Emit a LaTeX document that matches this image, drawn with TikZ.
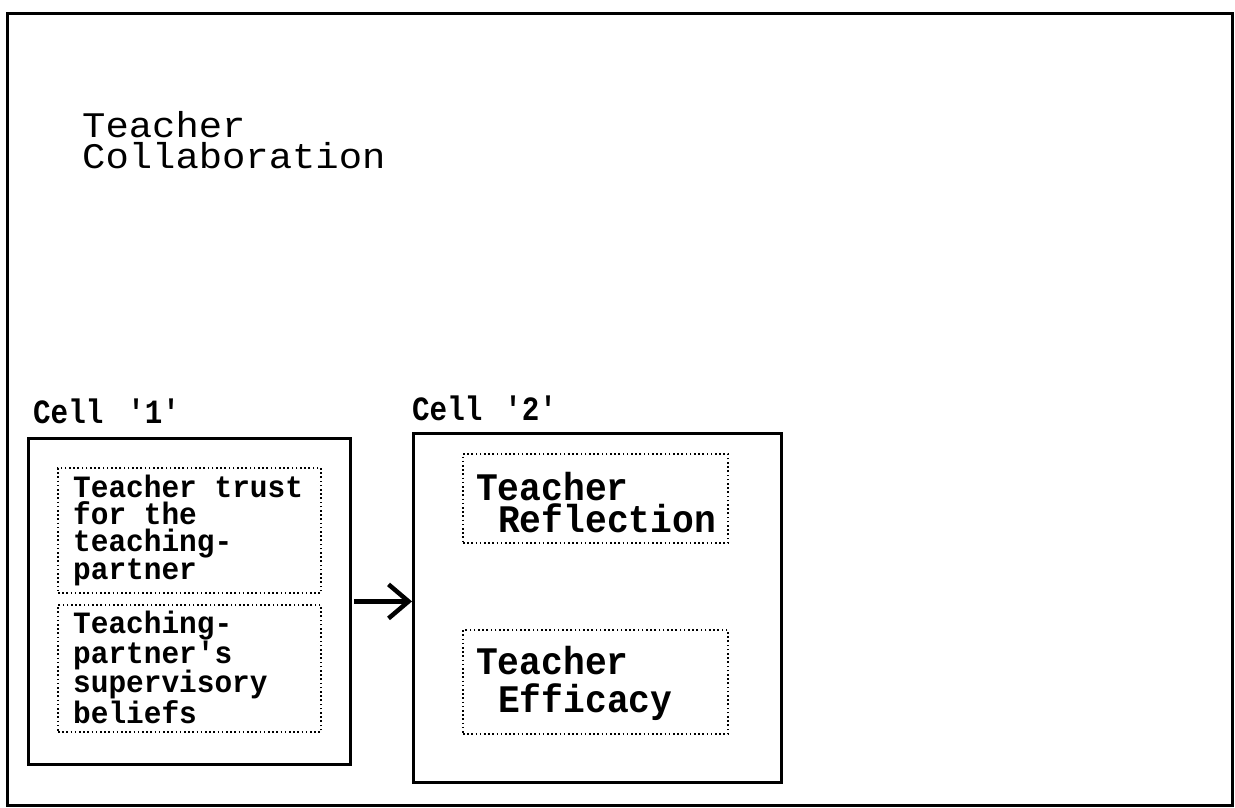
\documentclass[tikz,border=0pt]{standalone}
\usepackage{fontspec}
\setmonofont{Liberation Mono}
\newfontfamily\titlefont[FakeStretch=1.08]{Liberation Mono}
\newfontfamily\boxfont[FakeStretch=0.95]{Liberation Mono Bold}
\newfontfamily\cellfont[FakeStretch=0.93]{Liberation Mono Bold}
\newfontfamily\labfont[FakeStretch=0.86]{Liberation Mono Bold}
\newcommand\fixsp{\hspace*{17.7pt}}
\usetikzlibrary{arrows.meta}
\begin{document}
\begin{tikzpicture}[x=1pt,y=-1pt,
  frame/.style={draw, line width=3pt, anchor=north west, inner sep=0pt},
  cellbox/.style={draw, line width=2.8pt, anchor=north west, inner sep=0pt},
  dotbox/.style={draw, line width=2pt, dash pattern=on 1.6pt off 2.6pt, anchor=north west, inner sep=0pt},
  txtblock/.style={anchor=base west, inner sep=0pt, align=left, text width=#1},
  ttl/.style={txtblock=340pt, font=\titlefont\fontsize{36}{31}\selectfont},
  lab/.style={anchor=base west, inner sep=0pt, font=\labfont\fontsize{34}{34}\selectfont},
  btxt/.style={txtblock=245pt, font=\boxfont\fontsize{31}{#1}\selectfont},
  ctxt/.style={txtblock=250pt, font=\cellfont\fontsize{39}{#1}\selectfont},
  arr/.style={line width=4.5pt, -{Straight Barb[length=20pt,width=34pt]}, shorten <=2pt}
]
\useasboundingbox (0,0) rectangle (1235,807);
% outer frame
\node[frame, minimum width=1225pt, minimum height=792pt] (frame) at (6,12) {};
% title
\node[ttl] (title) at (82,137) {Teacher\\Collaboration};
% cell labels
\node[lab] (lab1) at (33,423) {Cell\hspace{24pt}'1'};
\node[lab] (lab2) at (412,420) {Cell\hspace{22pt}'2'};
% cell boxes
\node[cellbox, minimum width=322pt, minimum height=326pt] (cell1) at (27,437) {};
\node[cellbox, minimum width=368pt, minimum height=349pt] (cell2) at (412,432) {};
% dotted boxes in cell 1
\node[dotbox, minimum width=263pt, minimum height=125pt] (boxA) at (57,467) {};
\node[dotbox, minimum width=263pt, minimum height=127pt] (boxB) at (57,604) {};
% dotted boxes in cell 2
\node[dotbox, minimum width=265pt, minimum height=89pt] (boxC) at (462,453) {};
\node[dotbox, minimum width=265pt, minimum height=104pt] (boxD) at (462,629) {};
% texts
\node[btxt=27pt] (textA) at (73,497) {Teacher\fixsp trust\\for\fixsp the\\teaching-\\partner};
\node[btxt=28pt] (textB) at (73,633) {Teaching-\\partner's\\supervisory\\beliefs};
\node[ctxt=32pt] (textC) at (476,500) {Teacher\\\hspace*{22pt}Reflection};
\node[ctxt=38pt] (textD) at (476,674) {Teacher\\\hspace*{22pt}Efficacy};
% arrow
\draw[arr] (cell1.east) -- (cell1.east -| cell2.west);
\end{tikzpicture}
\end{document}
